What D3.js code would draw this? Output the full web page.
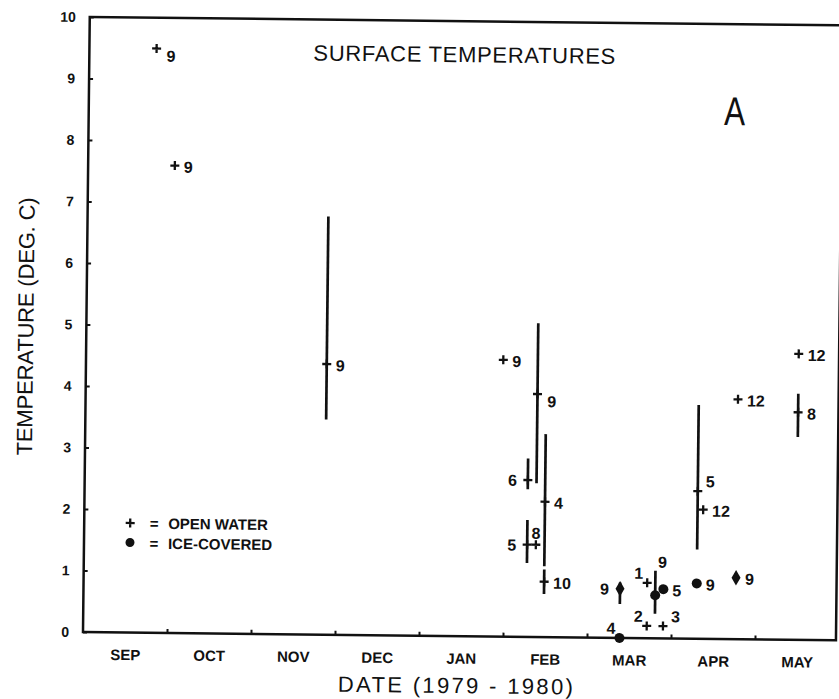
<!DOCTYPE html>
<html>
<head>
<meta charset="utf-8">
<title>Surface temperatures</title>
<style>
  body { margin: 0; background: #fff; }
  svg { display: block; }
  .tick text { font-family: "Liberation Sans", Arial, sans-serif; font-weight: bold; fill: #111; }
  .tick line { stroke: #111; stroke-width: 2; }
</style>
</head>
<body>
<svg id="chart" width="839" height="699"></svg>
<script src="https://cdn.jsdelivr.net/npm/d3@7"></script>
<script>
// one entry per sampling point
var dates  = ["1979-09-25","1979-10-02","1979-11-27","1980-01-31","1980-02-12","1980-02-09","1980-02-15","1980-02-15",
              "1980-02-09","1980-02-12","1980-03-13","1980-03-13","1980-03-23","1980-03-26","1980-03-29","1980-03-23",
              "1980-03-29","1980-04-10","1980-04-12","1980-04-10","1980-04-24","1980-04-24","1980-05-16","1980-05-16"];
var temps  = [9.5, 7.6, 4.4, 4.5, 3.95, 2.55, 2.2, 0.9, 1.5, 1.5, 0.8, 0.0, 0.9, 0.7, 0.8, 0.2, 0.2, 2.4, 2.1, 0.9, 1.0, 3.9, 4.65, 3.7];
var lows   = [null, null, 3.5, null, 2.5, 2.4, 1.15, 0.7, 1.2, null, 0.55, null, null, 0.4, null, null, null, 1.45, null, null, null, null, null, 3.3];
var highs  = [null, null, 6.8, null, 5.1, 2.9, 3.3, 1.1, 1.9, null, 0.9, null, null, 1.1, null, null, null, 3.8, null, null, null, null, null, 4.0];
var kinds  = ["open","open","open","open","open","open","open","open","open","open","diamond","ice","open","ice","ice","open",
              "open","open","open","ice","diamond","open","open","open"];
var counts = ["9","9","9","9","9","6","4","10","5","8","9","4","1","9","5","2","3","5","12","9","9","12","12","8"];
var sides  = ["br","r","r","r","br","l","r","r","l","a","l","al","al","ab","r","al","ar","ar","r","r","r","r","r","r"];
var months = ["SEP","OCT","NOV","DEC","JAN","FEB","MAR","APR","MAY"];
var tempTicks = [0,1,2,3,4,5,6,7,8,9,10];

var ink = "#111";
var svg = d3.select("#chart");

// the scanned page is turned a little, so the whole drawing is too
var g = svg.append("g").attr("transform", "rotate(0.63, 83, 632)");

var parse = d3.timeParse("%Y-%m-%d");
var start = new Date(1979, 8, 1);
function monthPos(s) {
  var d = parse(s);
  var m0 = d3.timeMonth.floor(d), m1 = d3.timeMonth.offset(m0, 1);
  return d3.timeMonth.count(start, m0) + (d - m0) / (m1 - m0);
}

var x = d3.scaleLinear().domain([0, 9]).range([83, 839]);
var y = d3.scaleLinear().domain([0, 10]).range([632, 17]);

var pts = dates.map(function(d, i) {
  return { m: monthPos(d), t: temps[i], lo: lows[i], hi: highs[i], kind: kinds[i], n: counts[i], side: sides[i] };
});

// frame
var right = 836;
g.append("path")
  .attr("d", "M" + x(0) + "," + y(10) + "V" + y(0) + "H" + right + "V" + y(10) + "Z")
  .attr("fill", "none")
  .attr("stroke", ink)
  .attr("stroke-width", 2.5);

// month boundary ticks
var xt = g.append("g")
  .attr("transform", "translate(0," + y(0) + ")")
  .call(d3.axisBottom(x).tickValues(d3.range(1, 9)).tickSize(-4).tickFormat(""));
xt.select(".domain").remove();

// month names in the middle of each month
var xl = g.append("g")
  .attr("transform", "translate(0," + y(0) + ")")
  .call(d3.axisBottom(x).tickValues(months.map(function(m, i) { return i + 0.5; }))
    .tickSize(0).tickPadding(17)
    .tickFormat(function(d, i) { return months[i]; }));
xl.select(".domain").remove();
xl.selectAll("text").style("font-size", "15px");

var yt = g.append("g")
  .attr("transform", "translate(" + x(0) + ",0)")
  .call(d3.axisLeft(y).tickValues(tempTicks).tickSize(-4).tickPadding(14).tickFormat(d3.format("d")));
yt.select(".domain").remove();
yt.selectAll("text").style("font-size", "14px");

// range bars
g.selectAll(".bar")
  .data(pts.filter(function(d) { return d.lo != null; }))
  .enter().append("line")
  .attr("class", "bar")
  .attr("x1", function(d) { return x(d.m); })
  .attr("x2", function(d) { return x(d.m); })
  .attr("y1", function(d) { return y(d.lo); })
  .attr("y2", function(d) { return y(d.hi); })
  .attr("stroke", ink)
  .attr("stroke-width", 2.7);

var plus = "M-4.5,0H4.5M0,-4.5V4.5";
var mark = g.selectAll(".mark")
  .data(pts)
  .enter().append("g")
  .attr("class", "mark")
  .attr("transform", function(d) { return "translate(" + x(d.m) + "," + y(d.t) + ")"; });

mark.filter(function(d) { return d.kind == "open"; })
  .append("path").attr("d", plus).attr("stroke", ink).attr("stroke-width", 2.3);
mark.filter(function(d) { return d.kind == "ice"; })
  .append("circle").attr("r", 5).attr("fill", ink);
mark.filter(function(d) { return d.kind == "diamond"; })
  .append("path").attr("d", d3.symbol(d3.symbolDiamond, 70)).attr("fill", ink);

// number of readings next to each mark
var offs = {
  r:  [9, 7, "start"],
  br: [10, 13, "start"],
  l:  [-11, 6, "end"],
  a:  [0, -6, "middle"],
  al: [-4, -4, "end"],
  ar: [8, -4, "start"]
};
mark.append("text")
  .attr("x", function(d) { return d.side == "ab" ? 7 : offs[d.side][0]; })
  .attr("y", function(d) { return d.side == "ab" ? y(d.hi) - y(d.t) - 3 : offs[d.side][1]; })
  .attr("text-anchor", function(d) { return d.side == "ab" ? "middle" : offs[d.side][2]; })
  .attr("font-family", "Liberation Sans, Arial, sans-serif")
  .attr("font-weight", "bold")
  .attr("font-size", "16px")
  .attr("fill", ink)
  .text(function(d) { return d.n; });

// legend
var leg = g.append("g")
  .attr("font-family", "Liberation Sans, Arial, sans-serif")
  .attr("font-weight", "bold")
  .attr("font-size", "15px")
  .attr("fill", ink);
leg.append("path").attr("d", plus).attr("transform", "translate(129,522.5)")
  .attr("stroke", ink).attr("stroke-width", 2.3);
leg.append("circle").attr("cx", 129).attr("cy", 542).attr("r", 4.5);
leg.append("text").attr("x", 153).attr("y", 528).attr("text-anchor", "middle").text("=");
leg.append("text").attr("x", 153).attr("y", 548).attr("text-anchor", "middle").text("=");
leg.append("text").attr("x", 167).attr("y", 528).text("OPEN WATER");
leg.append("text").attr("x", 167).attr("y", 548).text("ICE-COVERED");

// titles
var font = "Liberation Sans, Arial, sans-serif";
g.append("text")
  .attr("x", 458).attr("y", 58)
  .attr("text-anchor", "middle")
  .attr("font-family", font).attr("font-size", "22px").attr("fill", ink)
  .attr("textLength", 302)
  .text("SURFACE TEMPERATURES");

g.append("text")
  .attr("x", 729).attr("y", 118)
  .attr("text-anchor", "middle")
  .attr("font-family", font).attr("font-size", "40px").attr("fill", ink)
  .attr("textLength", 21).attr("lengthAdjust", "spacingAndGlyphs")
  .text("A");

g.append("text")
  .attr("x", 456).attr("y", 689)
  .attr("text-anchor", "middle")
  .attr("font-family", font).attr("font-size", "22px").attr("fill", ink)
  .attr("textLength", 235)
  .text("DATE (1979 - 1980)");

g.append("text")
  .attr("transform", "translate(30,327) rotate(-90)")
  .attr("text-anchor", "middle")
  .attr("font-family", font).attr("font-size", "22px").attr("fill", ink)
  .attr("textLength", 258)
  .text("TEMPERATURE (DEG. C)");
</script>
</body>
</html>
